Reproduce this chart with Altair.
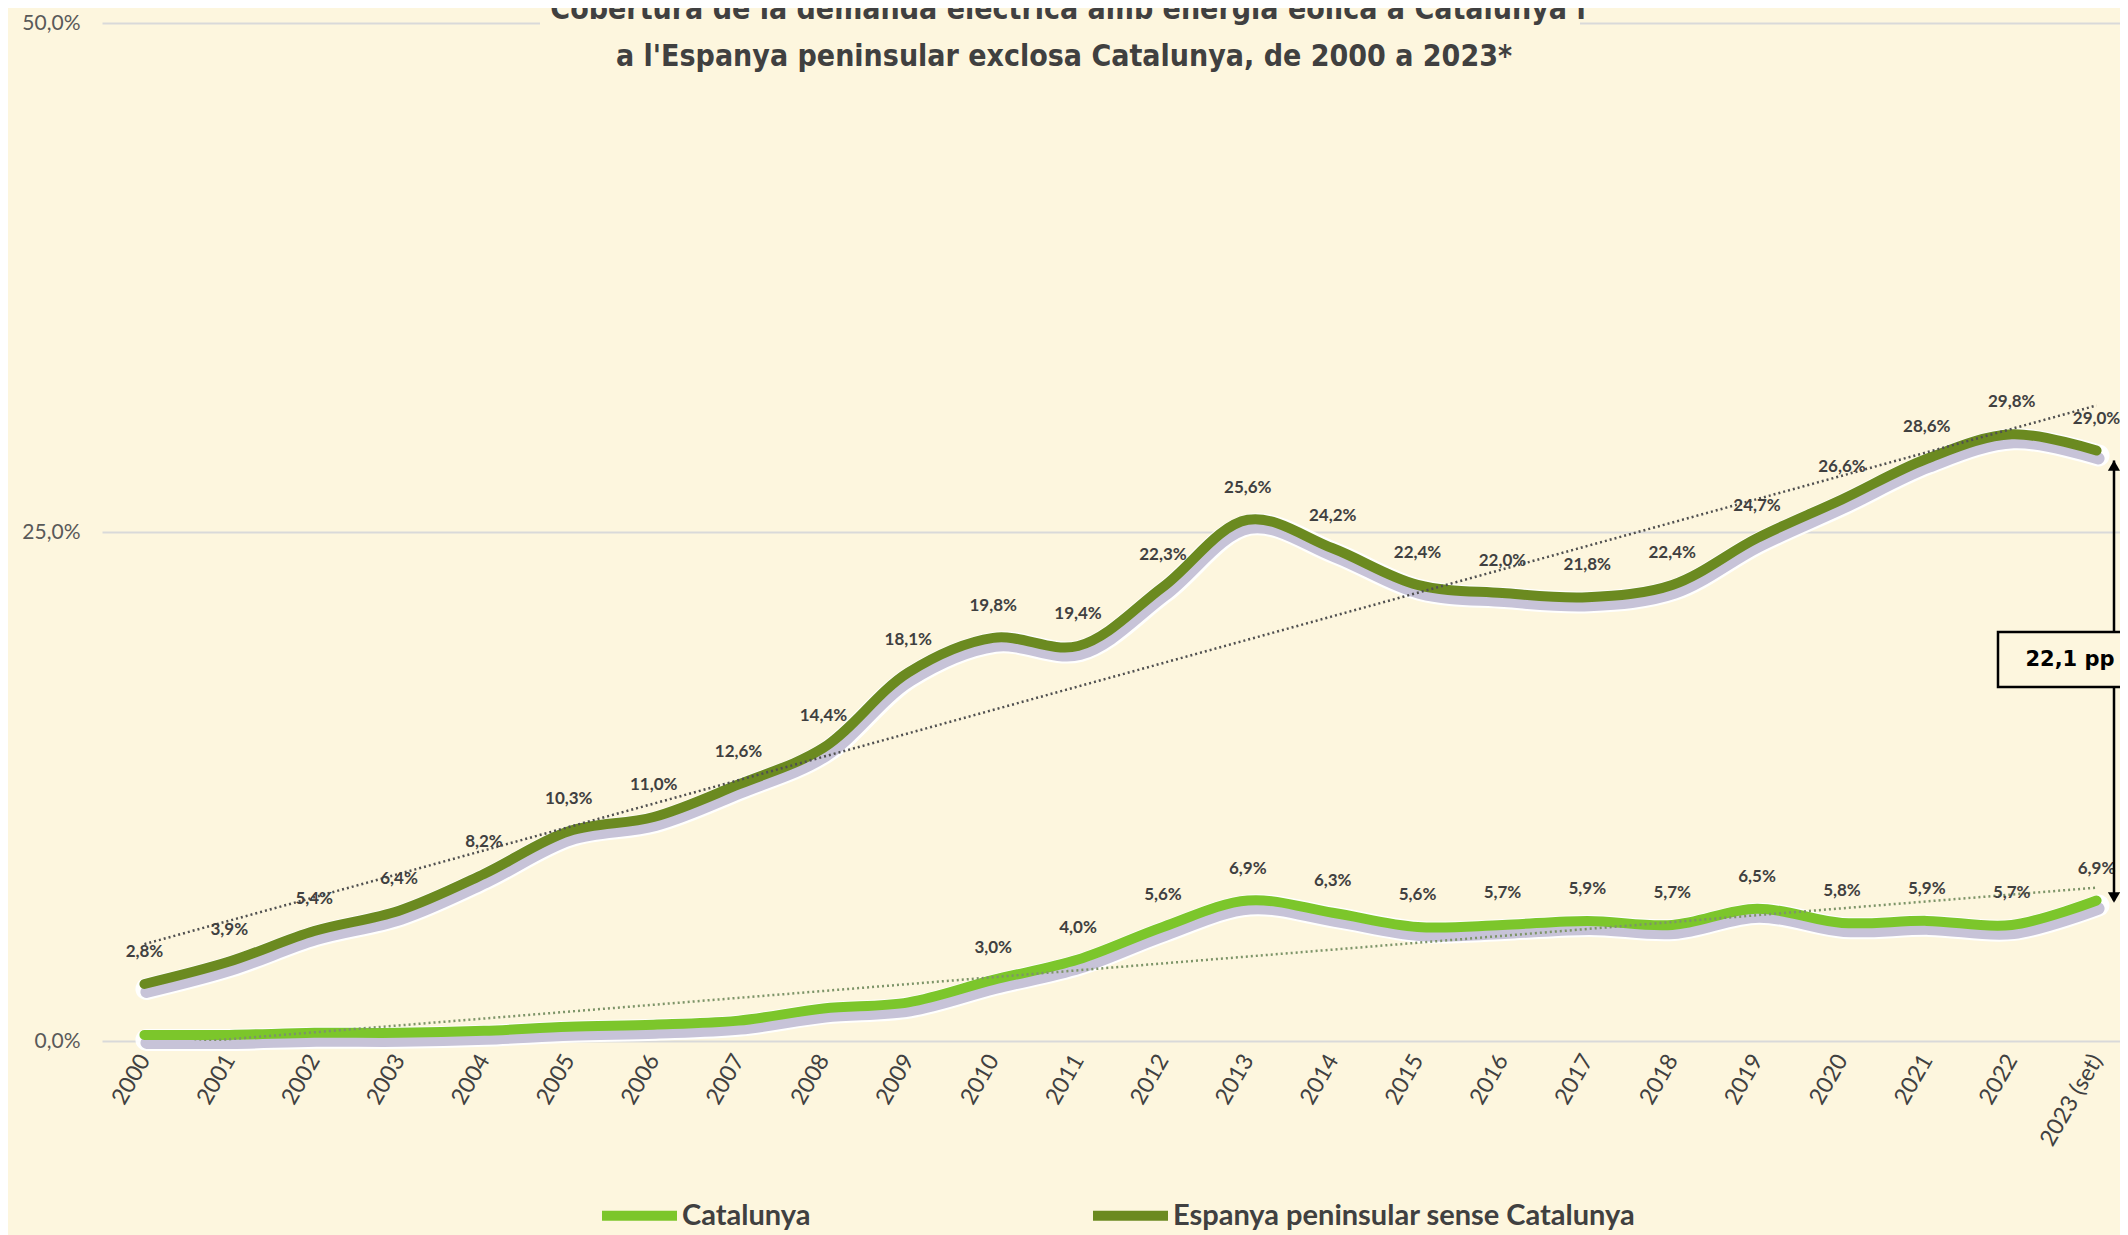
import json
import altair as alt
import pandas as pd

# ---------------- data ----------------
years = ["2000", "2001", "2002", "2003", "2004", "2005", "2006", "2007", "2008",
         "2009", "2010", "2011", "2012", "2013", "2014", "2015", "2016", "2017",
         "2018", "2019", "2020", "2021", "2022", "2023 (set)"]
catalunya = [0.3, 0.3, 0.4, 0.4, 0.5, 0.7, 0.8, 1.0, 1.6, 1.9, 3.0, 4.0,
             5.6, 6.9, 6.3, 5.6, 5.7, 5.9, 5.7, 6.5, 5.8, 5.9, 5.7, 6.9]
espanya = [2.8, 3.9, 5.4, 6.4, 8.2, 10.3, 11.0, 12.6, 14.4, 18.1, 19.8, 19.4,
           22.3, 25.6, 24.2, 22.4, 22.0, 21.8, 22.4, 24.7, 26.6, 28.6, 29.8, 29.0]
series_names = ["Catalunya", "Espanya peninsular sense Catalunya"]
series_colors = ["#7cc62b", "#6b8a20"]
trend_colors = ["#7d9468", "#505050"]
cat_label_from = 10  # Catalunya labels shown from 2010
title_lines = ["Cobertura de la demanda elèctrica amb energia eòlica a Catalunya i",
               "a l'Espanya peninsular exclosa Catalunya, de 2000 a 2023*"]
y_ticks = [0, 25, 50]

BG = "#fdf6de"
TXT = "#404040"
PLOT_W, PLOT_H = 2018, 1018
STEP = 84.875
x_max = -0.5 + PLOT_W / STEP

rows = []
for i, yr in enumerate(years):
    rows.append({"idx": i, "year": yr, "series": series_names[0], "value": catalunya[i]})
    rows.append({"idx": i, "year": yr, "series": series_names[1], "value": espanya[i]})
df = pd.DataFrame(rows)

pct_expr = "replace(format(datum.value, '.1f'), '.', ',') + '%'"

x_enc = alt.X("idx:Q",
              scale=alt.Scale(domain=[-0.5, x_max], nice=False, zero=False),
              axis=alt.Axis(values=list(range(len(years))),
                            labelExpr=f"{json.dumps(years)}[datum.value]",
                            labelAngle=-60, labelFont="Lato", labelFontSize=23,
                            labelColor=TXT, labelPadding=15, ticks=False,
                            domain=False, grid=False, title=None,
                            labelOverlap=False, labelFlush=False, labelBound=False))
y_enc = alt.Y("value:Q",
              scale=alt.Scale(domain=[0, 50], nice=False),
              axis=alt.Axis(values=y_ticks, labelExpr=pct_expr, grid=True,
                            gridColor="#d9d9d9", gridWidth=2, ticks=False,
                            domain=False, labelFont="Lato", labelFontSize=21,
                            labelColor="#595959", labelPadding=22, title=None))

base = alt.Chart(df)
one = pd.DataFrame({"a": [0]})

# title background (interrupts top gridline) and title text
title_bg = alt.Chart(one).mark_rect(fill=BG).encode(
    x=alt.value(438), x2=alt.value(1478), y=alt.value(-12), y2=alt.value(12))
TITLE_FONT = "'Liberation Sans Narrow', 'DejaVu Sans Condensed', 'Roboto', sans-serif"
title_l1 = alt.Chart(one).mark_text(text=title_lines[0], font=TITLE_FONT, fontSize=30,
                                    fontWeight="bold", color=TXT, baseline="alphabetic",
                                    align="center").encode(x=alt.value(966), y=alt.value(-4))
title_l2 = alt.Chart(one).mark_text(text=title_lines[1], font=TITLE_FONT, fontSize=30,
                                    fontWeight="bold", color=TXT, baseline="alphabetic",
                                    align="center").encode(x=alt.value(962), y=alt.value(43))

# line shadows
shadow_white = base.mark_line(interpolate="catmull-rom", color="white", strokeWidth=22,
                              yOffset=5, xOffset=2, strokeCap="round", strokeJoin="round",
                              opacity=0.95).encode(x=x_enc, y=y_enc, detail="series:N")
shadow_gray = base.mark_line(interpolate="catmull-rom", color="#c7c3d8", strokeWidth=12,
                             yOffset=8, xOffset=2, strokeCap="round",
                             strokeJoin="round").encode(x=x_enc, y=y_enc, detail="series:N")

main = base.mark_line(interpolate="catmull-rom", strokeWidth=10, strokeCap="round",
                      strokeJoin="round").encode(
    x=x_enc, y=y_enc,
    color=alt.Color("series:N",
                    scale=alt.Scale(domain=series_names, range=series_colors),
                    legend=alt.Legend(title=None, orient="none", legendX=495, legendY=1150,
                                      direction="horizontal", symbolType="stroke",
                                      symbolSize=5625, symbolStrokeWidth=10,
                                      labelFont="Lato", labelFontSize=29,
                                      labelFontWeight="bold", labelColor=TXT,
                                      labelOffset=0, columnPadding=262, labelLimit=1000)))

trends = []
for name, col in zip(series_names, trend_colors):
    trends.append(
        base.transform_filter(alt.datum.series == name)
        .transform_regression("idx", "value")
        .mark_line(clip=True, strokeDash=[2, 3], strokeWidth=2.5, color=col)
        .encode(x=x_enc, y=y_enc))

lab_font = dict(font="Lato", fontWeight="bold", fontSize=17, color=TXT, dy=-32)
labels_esp = (base.transform_filter(alt.datum.series == series_names[1])
              .transform_calculate(label=pct_expr)
              .mark_text(**lab_font).encode(x=x_enc, y=y_enc, text="label:N"))
labels_cat = (base.transform_filter(alt.datum.series == series_names[0])
              .transform_filter(alt.datum.idx >= cat_label_from)
              .transform_calculate(label=pct_expr)
              .mark_text(**lab_font).encode(x=x_enc, y=y_enc, text="label:N"))

# gap annotation (arrow between the 2023 values)
ann = pd.DataFrame({"top": [espanya[-1]], "bottom": [catalunya[-1]]})
ann_base = alt.Chart(ann)
ysc = alt.Scale(domain=[0, 50], nice=False)
arrow = ann_base.mark_rule(color="black", strokeWidth=2.5, yOffset=10).encode(
    x=alt.value(2012), y=alt.Y("top:Q", scale=ysc), y2="bottom:Q")
head_top = ann_base.mark_point(shape="triangle-up", filled=True, color="black", size=150,
                               opacity=1, yOffset=15).encode(
    x=alt.value(2012), y=alt.Y("top:Q", scale=ysc))
head_bot = ann_base.mark_point(shape="triangle-down", filled=True, color="black", size=150,
                               opacity=1, yOffset=-3).encode(
    x=alt.value(2012), y=alt.Y("bottom:Q", scale=ysc))
box = alt.Chart(one).mark_rect(fill=BG, stroke="black", strokeWidth=2.5).encode(
    x=alt.value(1896), x2=alt.value(2060), y=alt.value(609), y2=alt.value(664))
box_text = (ann_base.transform_calculate(
    label="replace(format(datum.top - datum.bottom, '.1f'), '.', ',') + ' pp'")
    .mark_text(font="DejaVu Sans", fontWeight="bold", fontSize=21, color="black")
    .encode(x=alt.value(1968), y=alt.value(637), text="label:N"))

chart = alt.layer(
    title_bg, shadow_white, shadow_gray, main, *trends, labels_esp, labels_cat,
    arrow, head_top, head_bot, box, box_text, title_l1, title_l2
).properties(
    width=PLOT_W, height=PLOT_H, background=BG,
    padding={"left": 94, "top": 15, "right": 0, "bottom": 194},
    autosize=alt.AutoSizeParams(type="none"),
).configure_view(stroke=None)

chart.save("out.html", embed_options={"renderer": "svg", "actions": False})
